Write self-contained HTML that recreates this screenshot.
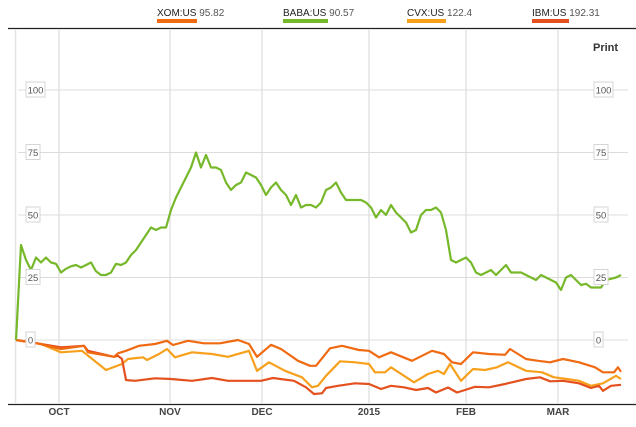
<!DOCTYPE html>
<html><head><meta charset="utf-8"><style>
html,body{margin:0;padding:0;background:#fff;}
body{width:636px;height:422px;overflow:hidden;font-family:"Liberation Sans",sans-serif;}
</style></head><body>
<svg id="chart" width="636" height="422" xmlns="http://www.w3.org/2000/svg" font-family="Liberation Sans, sans-serif">
<g id="grid"></g>
<g id="series"></g>
<g id="labels"></g>
<g id="legend"></g>
<text x="593" y="51" font-size="11" font-weight="bold" fill="#333">Print</text>
</svg>
<script>
const NS='http://www.w3.org/2000/svg';
const yTicks=[100,75,50,25,0];
const xTickLabels=['OCT','NOV','DEC','2015','FEB','MAR'];
const xTickPos=[43,154,246,353,450,542];
const babaV=[0,38,32,28,33,31,33,31,30.5,27,28.5,29.5,30,29,30,31,27.5,26,26,27,30.5,30,31,34,36,39,42,45,44,45,45,52,57,61,65,69,75,69,74,69,69,68,63,60,62,63,67,66,65,62,58,61,63,60,58,54,58,53,54,54,53,55,60,61,63,59,56,56,56,56,55,53,49,52,50,54,51,49,47,43,44,50,52,52,53,51,44,32,31,32,33,31,27,26,27,28,26,28,30,27,27,27,26,25,24,26,25,24,23,20,25,26,24,22,22.5,21,21,21,24,24.5,25,26];
const xomT=[0,21,45,68,72,98,102,110,123,139,151,157,172,188,204,222,233,241,255,265,282,294,300,314,326,343,353,363,375,396,416,428,436,445,457,473,489,494,510,522,534,547,563,579,587,598,602,605];
const xomV=[0,-1.3,-3.6,-2.3,-4.9,-6.7,-5.3,-4.3,-2.3,-1.6,-0.3,-2,-0.3,-1.3,-1.3,0,-1.6,-6.7,-1.9,-3.6,-8.3,-10.3,-10.3,-3.3,-2.3,-4,-4.3,-6.9,-4.9,-8.3,-4.3,-5.6,-8.9,-9.6,-4.9,-5.6,-5.9,-3.6,-7.6,-8.3,-8.9,-7.6,-8.9,-10.9,-12.9,-12.9,-10.9,-12.7];
const cvxT=[0,25,45,66,90,106,112,127,131,143,151,159,176,196,212,233,241,253,269,286,296,302,310,324,339,353,359,369,375,388,398,412,422,428,434,445,457,469,481,492,510,526,538,551,563,575,587,600,605];
const cvxV=[0,-1.6,-4.9,-4.3,-12,-9.6,-7.6,-6.9,-8,-5.6,-3.6,-6.9,-4.9,-5.6,-6.7,-4.3,-12.3,-8.9,-12.3,-14.9,-18.9,-18.3,-14.3,-8.5,-8.9,-9.6,-12.9,-12.9,-10.9,-14.3,-16.9,-13.6,-12.3,-13.6,-9.6,-16.3,-11.6,-12,-10.9,-8.9,-12.3,-12.9,-14.9,-15.6,-16.3,-18.3,-17.3,-14.3,-15.6];
const ibmT=[0,21,45,68,72,98,102,106,110,119,139,155,176,196,212,229,245,257,278,290,298,306,310,322,339,353,365,375,388,400,412,420,432,441,449,459,473,489,510,524,534,547,563,575,583,587,595,605];
const ibmV=[0,-1.3,-2.9,-2.3,-4.3,-6.7,-6.3,-7.6,-16,-16.3,-15.3,-15.6,-16.3,-15.2,-16.3,-16.3,-16.3,-15.2,-16.3,-18.9,-21.6,-21.3,-19.2,-18.3,-17.3,-17.6,-19.6,-18.3,-18.9,-20,-19.2,-21,-19,-21,-20,-18.7,-18.9,-17.6,-15.6,-14.9,-16.5,-16.3,-17.3,-19.2,-18.3,-20.3,-18.3,-17.9];
const legendNames=['XOM:US','BABA:US','CVX:US','IBM:US'];
const legendValues=['95.82','90.57','122.4','192.31'];
const colors=['#f06a12','#76b82a','#f7a01c','#e4511e'];

const X=t=>16+t*(605/605);
const Y=v=>340-v*2.5;
function mk(tag,attrs,parent){const e=document.createElementNS(NS,tag);for(const k in attrs)e.setAttribute(k,attrs[k]);parent.appendChild(e);return e;}
const grid=document.getElementById('grid'),lab=document.getElementById('labels'),ser=document.getElementById('series'),leg=document.getElementById('legend');
// top and bottom lines
let tl=mk('line',{x1:8,x2:636,y1:28.5,y2:28.5,stroke:'#222','stroke-width':1.2},grid);


let bl=mk('line',{x1:8,x2:636,y1:404.5,y2:404.5,stroke:'#222','stroke-width':1.2},grid);


let lv=mk('line',{x1:15.5,x2:15.5,y1:30,y2:404,stroke:'#e3e3e3','stroke-width':1.5},grid);


xTickPos.forEach((t,i)=>{
  const g=mk('line',{x1:X(t),x2:X(t),y1:30,y2:404,stroke:'#e3e3e3','stroke-width':1.5},grid);
  
  
  const tx=mk('text',{x:X(t),y:415,'font-size':10,'font-weight':'bold','fill':'#444','text-anchor':'middle'},lab);
  tx.textContent=xTickLabels[i];
  
  
});
yTicks.forEach(v=>{
  const y=Y(v);
  const g=mk('line',{x1:18,x2:628,y1:y,y2:y,stroke:'#dcdcdc','stroke-width':1},grid);
  
  
  [[26,'left'],[594,'right']].forEach(([bx,side])=>{
    const w=v===100?19:(v===0?9:14);
    const r=mk('rect',{x:bx,y:y-8,width:w,height:15,fill:'#fff',stroke:'#d5d5d5','stroke-width':1},lab);
    
    
    const t=mk('text',{x:bx+w/2,y:y+3.5,'font-size':9.5,fill:'#555','text-anchor':'middle'},lab);
    t.textContent=String(v);
    
    
  });
});
function line(ts,vs,color,name){
  const d=ts.map((t,i)=>(i?'L':'M')+X(t).toFixed(1)+','+Y(vs[i]).toFixed(1)).join(' ');
  const p=mk('path',{d:d,fill:'none',stroke:color,'stroke-width':2.2,'stroke-linejoin':'round'},ser);
  
  
}
line(cvxT,cvxV,colors[2],'cvx-line');
line(ibmT,ibmV,colors[3],'ibm-line');
line(xomT,xomV,colors[0],'xom-line');
line(babaV.map((v,i)=>i*5),babaV,colors[1],'baba-line');
const legX=[157,283,407,532],swW=[40,45,39,37];
legendNames.forEach((n,i)=>{
  const t=mk('text',{x:legX[i],y:16,'font-size':10,fill:'#222'},leg);
  t.textContent=n+' ';
  const s=mk('tspan',{fill:'#555'},t);s.textContent=legendValues[i];
  
  
  const r=mk('rect',{x:legX[i],y:19,width:swW[i],height:4,fill:colors[i]},leg);
  
  
});
</script>
</body></html>
